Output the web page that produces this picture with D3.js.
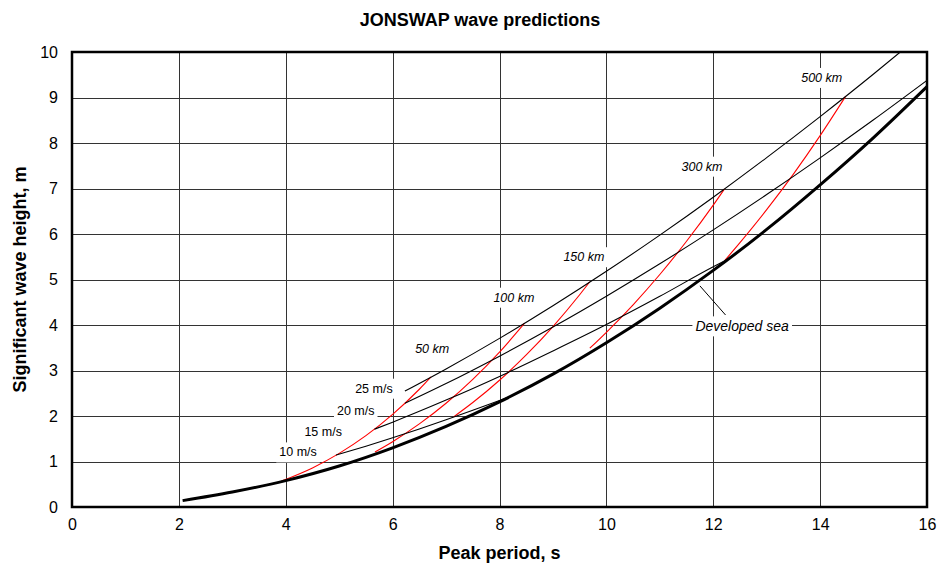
<!DOCTYPE html>
<html>
<head>
<meta charset="utf-8">
<script src="https://cdn.jsdelivr.net/npm/d3@7"></script>
<style>
  html, body { margin: 0; padding: 0; background: #fff; }
  svg { display: block; font-family: Arial, "Liberation Sans", Helvetica, sans-serif; }
</style>
</head>
<body>
<svg id="chart" width="940" height="564"></svg>
<script>
// Axis ticks
const xTicks = [0, 2, 4, 6, 8, 10, 12, 14, 16];
const yTicks = [0, 1, 2, 3, 4, 5, 6, 7, 8, 9, 10];

// Fully developed sea: [peak period Tp (s), significant height Hs (m)]
const developedSea = [
  [2.07, 0.14], [3, 0.33], [4, 0.58], [5, 0.9], [6, 1.3], [7, 1.77], [8, 2.31],
  [9, 2.92], [10, 3.61], [11, 4.37], [12, 5.2], [13, 6.1], [14, 7.08],
  [15, 8.12], [16, 9.24]
];

// Constant wind speed curves (fetch-limited growth)
const windNames = ["10 m/s", "15 m/s", "20 m/s", "25 m/s"];
const wind10 = [[4.94, 1.14], [5.5, 1.335], [6, 1.52], [6.5, 1.715], [7, 1.917], [7.5, 2.126], [8, 2.342], [8.22, 2.44]];
const wind15 = [[5.66, 1.71], [6, 1.865], [7, 2.35], [8, 2.87], [9, 3.43], [10, 4.01], [11, 4.63], [12, 5.28], [12.3, 5.46]];
const wind20 = [[6.23, 2.28], [7, 2.713], [8, 3.315], [9, 3.955], [10, 4.633], [11, 5.345], [12, 6.09], [13, 6.867], [14, 7.674], [15, 8.51], [16, 9.376]];
const wind25 = [[6.23, 2.547], [7, 3.034], [8, 3.706], [9, 4.423], [10, 5.18], [11, 5.976], [12, 6.809], [13, 7.678], [14, 8.58], [15, 9.516], [15.5, 10.0]];

// Constant fetch curves
const fetchNames = ["50 km", "100 km", "150 km", "300 km", "500 km"];
const fetch50 = [[3.92, 0.57], [4.5, 0.859], [5, 1.178], [5.5, 1.568], [6, 2.036], [6.5, 2.588], [6.72, 2.86]];
const fetch100 = [[5.67, 1.21], [6, 1.436], [6.5, 1.826], [7, 2.28], [7.5, 2.805], [8, 3.404], [8.47, 4.04]];
const fetch150 = [[7.14, 1.98], [7.5, 2.296], [8, 2.786], [8.5, 3.342], [9, 3.966], [9.5, 4.665], [9.69, 4.95]];
const fetch300 = [[9.69, 3.49], [10, 3.84], [10.5, 4.445], [11, 5.11], [11.5, 5.84], [12, 6.634], [12.21, 6.99]];
const fetch500 = [[12.21, 5.41], [12.5, 5.81], [13, 6.535], [13.5, 7.317], [14, 8.162], [14.48, 9.03]];

const windCurves = [wind10, wind15, wind20, wind25];
const fetchCurves = [fetch50, fetch100, fetch150, fetch300, fetch500];

// Curve labels: [text, Tp, Hs] anchor in data units
const windLabels = [["10 m/s", 4.23, 1.2], ["15 m/s", 4.7, 1.65], ["20 m/s", 5.31, 2.1], ["25 m/s", 5.65, 2.6]];
const fetchLabels = [["50 km", 6.74, 3.47], ["100 km", 8.27, 4.6], ["150 km", 9.58, 5.49], ["300 km", 11.79, 7.48], ["500 km", 14.03, 9.43]];
const developedLabel = ["Developed sea", 12.54, 3.97];
const developedPointer = [[11.75, 4.86], [12.23, 4.22]];

const W = 940, H = 564;
const margin = { left: 72, right: 13, top: 52, bottom: 57 };

const svg = d3.select("#chart");

const x = d3.scaleLinear().domain([0, 16]).range([margin.left, W - margin.right]);
const y = d3.scaleLinear().domain([0, 10]).range([H - margin.bottom, margin.top]);

// Title
svg.append("text")
  .attr("x", 480).attr("y", 26)
  .attr("text-anchor", "middle")
  .attr("font-weight", "bold").attr("font-size", 18)
  .text("JONSWAP wave predictions");

// Grid
const grid = svg.append("g").attr("stroke", "#333").attr("stroke-width", 1);
grid.selectAll("line.v").data(xTicks.slice(1, -1)).join("line")
  .attr("x1", d => Math.round(x(d)) + 0.5).attr("x2", d => Math.round(x(d)) + 0.5)
  .attr("y1", y(0)).attr("y2", y(10));
grid.selectAll("line.h").data(yTicks.slice(1, -1)).join("line")
  .attr("y1", d => Math.round(y(d)) + 0.5).attr("y2", d => Math.round(y(d)) + 0.5)
  .attr("x1", x(0)).attr("x2", x(16));

// Axes (labels only; frame drawn separately)
const xAxis = d3.axisBottom(x).tickValues(xTicks).tickSize(0).tickPadding(12);
svg.append("g").attr("transform", `translate(0,${y(0)})`).call(xAxis)
  .call(g => g.select(".domain").remove())
  .call(g => g.selectAll("text").attr("font-size", 16).attr("font-family", "Arial, 'Liberation Sans', sans-serif").attr("fill", "#000"));

const yAxis = d3.axisLeft(y).tickValues(yTicks).tickSize(0).tickPadding(14);
svg.append("g").attr("transform", `translate(${x(0)},0)`).call(yAxis)
  .call(g => g.select(".domain").remove())
  .call(g => g.selectAll("text").attr("font-size", 16).attr("font-family", "Arial, 'Liberation Sans', sans-serif").attr("fill", "#000"));

// Axis titles
svg.append("text")
  .attr("x", (x(0) + x(16)) / 2).attr("y", 559)
  .attr("text-anchor", "middle").attr("font-weight", "bold").attr("font-size", 18)
  .text("Peak period, s");
svg.append("text")
  .attr("transform", `translate(26,${(y(0) + y(10)) / 2}) rotate(-90)`)
  .attr("text-anchor", "middle").attr("font-weight", "bold").attr("font-size", 18)
  .text("Significant wave height, m");

// Curve labels on white boxes
const labelG = svg.append("g");
function addLabel(txt, tx, ty, italic, size) {
  const g = labelG.append("g");
  const t = g.append("text")
    .attr("x", x(tx)).attr("y", y(ty))
    .attr("text-anchor", "middle").attr("dominant-baseline", "central")
    .attr("font-size", size)
    .attr("font-style", italic ? "italic" : "normal")
    .text(txt);
  const bb = t.node().getBBox();
  g.insert("rect", "text")
    .attr("x", bb.x - 3).attr("y", y(ty) - 10)
    .attr("width", bb.width + 6).attr("height", 20)
    .attr("fill", "#fff");
}
windLabels.forEach(d => addLabel(d[0], d[1], d[2], false, 12.5));
fetchLabels.forEach(d => addLabel(d[0], d[1], d[2], true, 12.5));
addLabel(developedLabel[0], developedLabel[1], developedLabel[2], true, 14);

// Curves
svg.append("clipPath").attr("id", "plotClip")
  .append("rect").attr("x", x(0)).attr("y", y(10))
  .attr("width", x(16) - x(0)).attr("height", y(0) - y(10));

const line = d3.line().x(d => x(d[0])).y(d => y(d[1])).curve(d3.curveMonotoneX);
const curves = svg.append("g").attr("clip-path", "url(#plotClip)").attr("fill", "none");

curves.selectAll("path.fetch").data(fetchCurves).join("path")
  .attr("class", "fetch")
  .attr("d", line).attr("stroke", "#ff0000").attr("stroke-width", 1.1);

curves.selectAll("path.wind").data(windCurves).join("path")
  .attr("class", "wind")
  .attr("d", line).attr("stroke", "#000").attr("stroke-width", 1.1);

curves.append("path").datum(developedSea)
  .attr("d", line).attr("stroke", "#000").attr("stroke-width", 3);

// Pointer from the "Developed sea" label to its curve
svg.append("line")
  .attr("x1", x(developedPointer[0][0])).attr("y1", y(developedPointer[0][1]))
  .attr("x2", x(developedPointer[1][0])).attr("y2", y(developedPointer[1][1]))
  .attr("stroke", "#000").attr("stroke-width", 1);

// Frame
svg.append("rect")
  .attr("x", x(0)).attr("y", y(10))
  .attr("width", x(16) - x(0)).attr("height", y(0) - y(10))
  .attr("fill", "none").attr("stroke", "#000").attr("stroke-width", 2.5);
</script>
</body>
</html>
